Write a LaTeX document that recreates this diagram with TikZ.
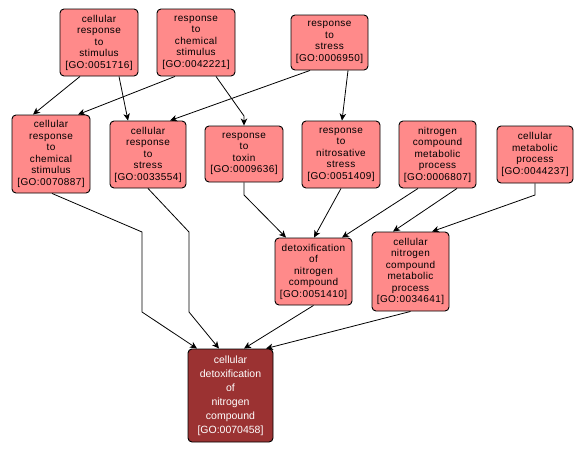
\documentclass[tikz,border=0pt]{standalone}
\usepackage{fontspec}
\setmainfont{Liberation Sans}
\newfontfamily\lightfont[LetterSpace=4]{Liberation Sans}
\usetikzlibrary{arrows.meta,calc}
\definecolor{lightred}{RGB}{255,138,138}
\definecolor{darkred}{RGB}{155,50,50}
\tikzset{
  goterm/.style={draw=black,line width=0.9pt,rounded corners=4pt,fill=lightred,align=center,
    inner sep=0pt,font=\lightfont\fontsize{10}{11.5}\selectfont,text=black},
  goroot/.style={draw=black,line width=0.9pt,rounded corners=4pt,fill=darkred,align=center,
    inner sep=0pt,font=\fontsize{10.5}{14}\selectfont,text=white},
  isa/.style={draw=black,line width=0.8pt,-{Stealth[length=7pt,width=6.5pt,inset=2pt]}}
}
\begin{document}
\begin{tikzpicture}[x=1pt,y=-1pt]
\useasboundingbox (0,0) rectangle (587,453);
\node[goterm,minimum width=78pt,minimum height=67pt] (a) at (99,42.5) {cellular\\response\\to\\stimulus\\{[GO:0051716]}};
\node[goterm,minimum width=78pt,minimum height=67pt] (b) at (196,42.5) {response\\to\\chemical\\stimulus\\{[GO:0042221]}};
\node[goterm,minimum width=77pt,minimum height=55pt] (c) at (329.5,42.5) {response\\to\\stress\\{[GO:0006950]}};
\node[goterm,minimum width=78pt,minimum height=78pt] (d) at (51,154) {cellular\\response\\to\\chemical\\stimulus\\{[GO:0070887]}};
\node[goterm,minimum width=76pt,minimum height=67pt] (e) at (148,154.5) {cellular\\response\\to\\stress\\{[GO:0033554]}};
\node[goterm,minimum width=78pt,minimum height=56pt] (f) at (244,154) {response\\to\\toxin\\{[GO:0009636]}};
\node[goterm,minimum width=78pt,minimum height=67pt] (g) at (341,154.5) {response\\to\\nitrosative\\stress\\{[GO:0051409]}};
\node[goterm,minimum width=77pt,minimum height=67pt] (h) at (437.5,154.5) {nitrogen\\compound\\metabolic\\process\\{[GO:0006807]}};
\node[goterm,minimum width=76pt,minimum height=57pt] (i) at (535,154.5) {cellular\\metabolic\\process\\{[GO:0044237]}};
\node[goterm,minimum width=77pt,minimum height=67pt] (j) at (313.5,271.5) {detoxification\\of\\nitrogen\\compound\\{[GO:0051410]}};
\node[goterm,minimum width=77pt,minimum height=79pt] (k) at (410.5,271.5) {cellular\\nitrogen\\compound\\metabolic\\process\\{[GO:0034641]}};
\node[goroot,minimum width=85pt,minimum height=93pt] (m) at (230.5,395.5) {cellular\\detoxification\\of\\nitrogen\\compound\\{[GO:0070458]}};
% edges
\draw[isa] ([xshift=-19pt]a.south) -- ([xshift=-18pt]d.north);
\draw[isa] ([xshift=20pt]a.south) -- ([xshift=-20pt]e.north);
\draw[isa] ([xshift=-21pt]b.south) -- ([xshift=27pt]d.north);
\draw[isa] ([xshift=20pt]b.south) -- (f.north |- 0,116) -- (f.north);
\draw[isa] ([xshift=-19.5pt]c.south) -- ([xshift=22pt]e.north);
\draw[isa] ([xshift=18.5pt]c.south) -- ([xshift=1pt]g.north);
\draw[isa] ([xshift=1pt]d.south) -- (142,232) -- (142,312) -- ([xshift=-33.5pt]m.north);
\draw[isa] (e.south) -- (189,232) -- (189,312) -- ([xshift=-11.5pt]m.north);
\draw[isa] (f.south) -- (f.south |- 0,195) -- ([xshift=-27.5pt]j.north);
\draw[isa] (g.south) -- ([xshift=0.5pt]j.north);
\draw[isa] ([xshift=-19.5pt]h.south) -- ([xshift=28.5pt]j.north);
\draw[isa] ([xshift=19.5pt]h.south) -- ([xshift=-17.5pt]k.north);
\draw[isa] (i.south) -- (i.south |- 0,195) -- ([xshift=21.5pt]k.north);
\draw[isa] (j.south) -- ([xshift=13.5pt]m.north);
\draw[isa] (k.south) -- ([xshift=35.5pt]m.north);
\end{tikzpicture}
\end{document}
